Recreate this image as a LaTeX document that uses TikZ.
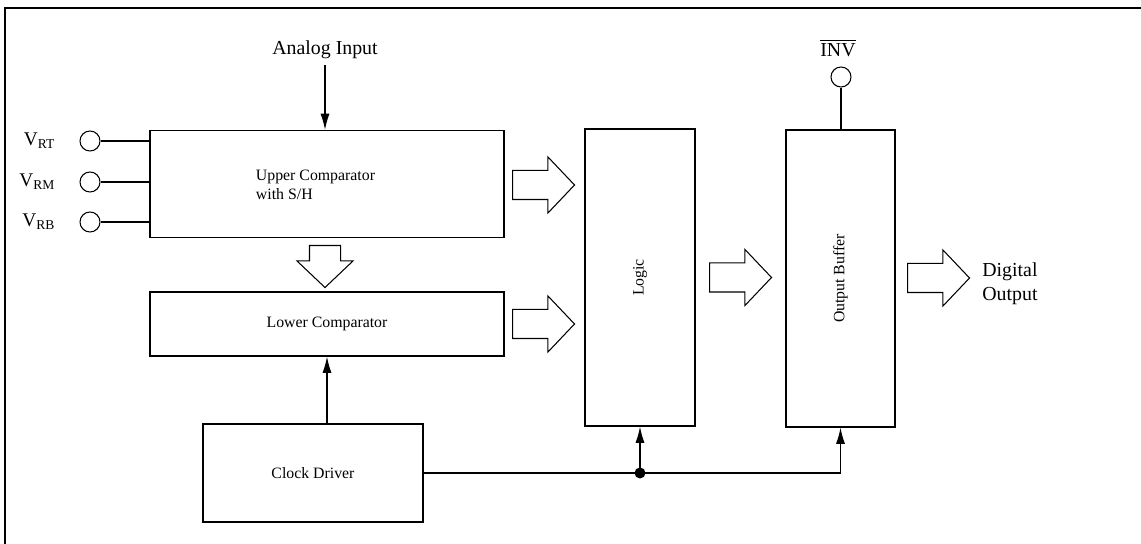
\documentclass[tikz,border=0pt]{standalone}
\usepackage{fontspec}
\setmainfont{Liberation Serif}
\usetikzlibrary{positioning,arrows.meta,shapes.arrows}

\begin{document}
\begin{tikzpicture}[x=1cm,y=1cm,
  blk/.style={draw,line width=0.9pt,inner sep=0pt,font=\fontsize{9}{11}\selectfont},
  pin/.style={draw,circle,line width=0.6pt,minimum size=0.4cm,inner sep=0pt},
  bigarr/.style={draw,single arrow,anchor=tail,line width=0.6pt,inner xsep=0pt,inner ysep=0.28cm,
    single arrow head extend=0.27cm,single arrow tip angle=93,minimum height=1.24cm},
  sig/.style={line width=0.6pt},
  >={Latex[length=3.2mm,width=1.8mm]}]
  \useasboundingbox (0,0) rectangle (22.82,10.88);
  \draw[line width=1.1pt] (0.1,0) -- (0.1,10.72) -- (22.82,10.72);

  % blocks
  \node[blk,minimum width=7.08cm,minimum height=2.14cm] (upper) at (6.54,7.2) {};
  \node[align=left,inner sep=0pt,font=\fontsize{9}{11}\selectfont] (uppertxt) at (6.31,7.18) {Upper Comparator\\with S/H};
  \node[blk,minimum width=7.08cm,minimum height=1.28cm] (lower) at (6.54,4.4) {Lower Comparator};
  \node[blk,minimum width=4.4cm,minimum height=1.96cm] (clock) at (6.26,1.42) {Clock Driver};
  \node[blk,minimum width=2.2cm,minimum height=5.94cm] (logic) at (12.8,5.33) {};
  \node[rotate=90,font=\fontsize{9}{11}\selectfont] (logictxt) at (logic) {Logic};
  \node[blk,minimum width=2.18cm,minimum height=5.94cm] (outbuf) at (16.81,5.31) {};
  \node[rotate=90,font=\fontsize{9}{11}\selectfont] (outbuftxt) at (outbuf) {Output Buffer};

  % reference pins
  \node[pin] (vrt) at (1.8,8.06) {};
  \node[pin] (vrm) at (1.8,7.24) {};
  \node[pin] (vrb) at (1.8,6.44) {};
  \node[left=0.36cm of vrt,font=\fontsize{11}{13}\selectfont] (vrtlbl) {V\textsubscript{RT}};
  \node[left=0.36cm of vrm,font=\fontsize{11}{13}\selectfont] (vrmlbl) {V\textsubscript{RM}};
  \node[left=0.36cm of vrb,font=\fontsize{11}{13}\selectfont] (vrblbl) {V\textsubscript{RB}};
  \draw[sig] (vrt) -- (vrt -| upper.west);
  \draw[sig] (vrm) -- (vrm -| upper.west);
  \draw[sig] (vrb) -- (vrb -| upper.west);

  % inputs
  \node[font=\fontsize{11.3}{13}\selectfont] (ain) at (6.5,9.88) {Analog Input};
  \draw[sig,->] (ain.south) -- (ain.south |- upper.north);
  \node[font=\fontsize{11.3}{13}\selectfont] (inv) at (16.76,9.92) {$\overline{\mbox{INV}}$};
  \node[pin] (invpin) at (16.82,9.34) {};
  \draw[sig] (invpin.south) -- (invpin.south |- outbuf.north);

  % bus arrows
  \node[bigarr,rotate=-90,minimum height=0.84cm,inner ysep=0.3cm,single arrow head extend=0.25cm] (busdown) at (6.5,5.98) {};
  \node[bigarr] (busup) at (10.24,7.18) {};
  \node[bigarr] (buslow) at (10.24,4.4) {};
  \node[bigarr] (buslogic) at (14.18,5.33) {};
  \node[bigarr] (busout) at (18.14,5.32) {};
  \node[align=left,anchor=west,inner sep=0pt,font=\fontsize{11.3}{13.5}\selectfont] (dout) at (19.64,5.2) {Digital\\Output};

  % clock
  \draw[sig,->] (lower.south |- clock.north) -- (lower.south);
  \coordinate (split) at (clock.east -| logic.south);
  \fill (split) circle (0.11);
  \draw[sig,->] (split) -- (logic.south);
  \draw[sig,->] (clock.east) -- (split) -- (split -| outbuf.south) -- (outbuf.south);
\end{tikzpicture}
\end{document}
